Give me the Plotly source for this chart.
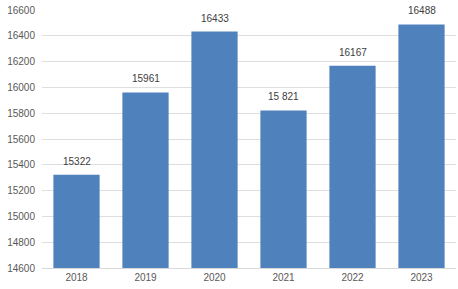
import plotly.graph_objects as go

years = ["2018", "2019", "2020", "2021", "2022", "2023"]
values = [15322, 15961, 16433, 15821, 16167, 16488]
labels = ["15322", "15961", "16433", "15 821", "16167", "16488"]
y_ticks = [14600, 14800, 15000, 15200, 15400, 15600, 15800, 16000, 16200, 16400, 16600]

fig = go.Figure(go.Bar(
    x=years, y=values,
    marker=dict(color="#4f81bd", line=dict(color="#4f81bd", width=0)),
))
for i, (yv, t) in enumerate(zip(values, labels)):
    fig.add_annotation(x=i, y=yv, text=t, showarrow=False, yanchor="bottom",
                       yshift=6, font=dict(family="Liberation Sans, Arial", size=10, color="#404040"))
fig.update_layout(
    width=458, height=289,
    margin=dict(l=42, r=2, t=10, b=21),
    plot_bgcolor="white", paper_bgcolor="white",
    bargap=0.33, showlegend=False,
    font=dict(family="Liberation Sans, Arial", size=10, color="#595959"),
    yaxis=dict(range=[14600, 16600], tickvals=y_ticks, ticktext=[str(v) for v in y_ticks],
               showgrid=True, gridcolor="#dedede", gridwidth=1, zeroline=False,
               tickfont=dict(size=10, color="#595959"), ticklabelstandoff=6),
    xaxis=dict(type="category", showline=True, linecolor="#d9d9d9", linewidth=1,
               tickfont=dict(size=10, color="#595959")),
)
fig.write_html("out.html")
